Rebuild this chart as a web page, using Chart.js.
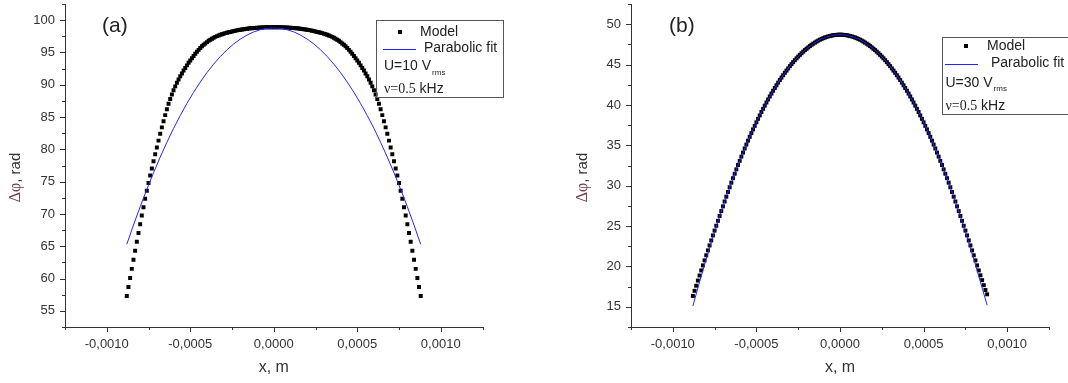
<!DOCTYPE html>
<html>
<head>
<meta charset="utf-8">
<script src="https://cdn.jsdelivr.net/npm/chart.js@4.4.0/dist/chart.umd.min.js"></script>
<style>
  html, body { margin: 0; padding: 0; background: #fff; }
  .panel { position: absolute; top: 0; width: 534px; height: 383px; }
  #panelA { left: 0; }
  #panelB { left: 534px; }
</style>
</head>
<body>
<div class="panel" id="panelA"><canvas id="chartA"></canvas></div>
<div class="panel" id="panelB"><canvas id="chartB"></canvas></div>
<script>
// x positions in micrometres (converted to metres when plotted)
const xModel = [
  -880,-870,-860,-850,-840,-830,-820,-810,-800,-790,-780,-770,-760,-750,-740,-730,-720,-710,-700,-690,
  -680,-670,-660,-650,-640,-630,-620,-610,-600,-590,-580,-570,-560,-550,-540,-530,-520,-510,-500,-490,
  -480,-470,-460,-450,-440,-430,-420,-410,-400,-390,-380,-370,-360,-350,-340,-330,-320,-310,-300,-290,
  -280,-270,-260,-250,-240,-230,-220,-210,-200,-190,-180,-170,-160,-150,-140,-130,-120,-110,-100,-90,
  -80,-70,-60,-50,-40,-30,-20,-10,0,10,20,30,40,50,60,70,80,
  90,100,110,120,130,140,150,160,170,180,190,200,210,220,230,240,250,260,270,280,
  290,300,310,320,330,340,350,360,370,380,390,400,410,420,430,440,450,460,470,480,
  490,500,510,520,530,540,550,560,570,580,590,600,610,620,630,640,650,660,670,680,
  690,700,710,720,730,740,750,760,770,780,790,800,810,820,830,840,850,860,870,880
];
const xFit = [
  -880,-840,-800,-760,-720,-680,-640,-600,-560,-520,-480,-440,-400,-360,-320,-280,-240,-200,-160,-120,-80,-40,
  0,40,80,120,160,200,240,280,320,360,400,440,480,520,560,600,640,680,720,760,800,840,880
];

// panel (a): U = 10 Vrms
const modelA = [
  57.3, 58.7, 60.1, 61.5, 62.9, 64.3, 65.7, 67.05, 68.4, 69.75,
  71.05, 72.35, 73.6, 74.8, 75.95, 77.05, 78.15, 79.25, 80.3, 81.35,
  82.4, 83.4, 84.35, 85.3, 86.2, 87.05, 87.8, 88.5, 89.15, 89.75,
  90.3, 90.8, 91.3, 91.75, 92.2, 92.6, 93.0, 93.4, 93.75, 94.1,
  94.45, 94.8, 95.1, 95.4, 95.7, 95.95, 96.2, 96.4, 96.6, 96.8,
  96.97, 97.13, 97.28, 97.41, 97.53, 97.64, 97.74, 97.83, 97.91, 97.99,
  98.06, 98.12, 98.18, 98.24, 98.3, 98.36, 98.42, 98.47, 98.52, 98.56,
  98.6, 98.64, 98.67, 98.7, 98.73, 98.76, 98.78, 98.8, 98.82, 98.84,
  98.85, 98.87, 98.88, 98.89, 98.9, 98.9, 98.91, 98.91, 98.91,
  98.91, 98.91, 98.9, 98.9, 98.89, 98.88, 98.87, 98.85,
  98.84, 98.82, 98.8, 98.78, 98.76, 98.73, 98.7, 98.67, 98.64, 98.6,
  98.56, 98.52, 98.47, 98.42, 98.36, 98.3, 98.24, 98.18, 98.12, 98.06,
  97.99, 97.91, 97.83, 97.74, 97.64, 97.53, 97.41, 97.28, 97.13, 96.97,
  96.8, 96.6, 96.4, 96.2, 95.95, 95.7, 95.4, 95.1, 94.8, 94.45,
  94.1, 93.75, 93.4, 93.0, 92.6, 92.2, 91.75, 91.3, 90.8, 90.3,
  89.75, 89.15, 88.5, 87.8, 87.05, 86.2, 85.3, 84.35, 83.4, 82.4,
  81.35, 80.3, 79.25, 78.15, 77.05, 75.95, 74.8, 73.6, 72.35, 71.05,
  69.75, 68.4, 67.05, 65.7, 64.3, 62.9, 61.5, 60.1, 58.7, 57.3
];
const fitA = [
  65.3, 68.28, 71.11, 73.81, 76.37, 78.8, 81.08, 83.23, 85.23, 87.1, 88.83, 90.42,
  91.88, 93.19, 94.37, 95.41, 96.31, 97.07, 97.69, 98.18, 98.52, 98.73, 98.8,
  98.73, 98.52, 98.18, 97.69, 97.07, 96.31, 95.41, 94.37, 93.19, 91.88, 90.42,
  88.83, 87.1, 85.23, 83.23, 81.08, 78.8, 76.37, 73.81, 71.11, 68.28, 65.3
];

// panel (b): U = 30 Vrms
const modelB = [
  16.35, 16.98, 17.61, 18.25, 18.88, 19.51, 20.13, 20.75, 21.38, 21.99,
  22.6, 23.22, 23.84, 24.44, 25.04, 25.65, 26.26, 26.85, 27.44, 28.04,
  28.64, 29.22, 29.8, 30.37, 30.93, 31.48, 32.02, 32.56, 33.08, 33.6,
  34.1, 34.6, 35.09, 35.57, 36.05, 36.51, 36.97, 37.41, 37.85, 38.28,
  38.7, 39.12, 39.52, 39.91, 40.3, 40.68, 41.05, 41.41, 41.76, 42.1,
  42.43, 42.76, 43.08, 43.39, 43.68, 43.98, 44.26, 44.53, 44.8, 45.05,
  45.3, 45.54, 45.77, 45.99, 46.2, 46.4, 46.6, 46.79, 46.96, 47.13,
  47.29, 47.45, 47.59, 47.72, 47.85, 47.97, 48.08, 48.18, 48.27, 48.35,
  48.42, 48.49, 48.54, 48.59, 48.63, 48.66, 48.68, 48.7, 48.7,
  48.7, 48.68, 48.66, 48.63, 48.59, 48.54, 48.49, 48.42,
  48.35, 48.27, 48.18, 48.08, 47.97, 47.85, 47.72, 47.59, 47.45, 47.29,
  47.13, 46.96, 46.79, 46.6, 46.4, 46.2, 45.99, 45.77, 45.54, 45.3,
  45.05, 44.8, 44.53, 44.26, 43.98, 43.68, 43.39, 43.08, 42.76, 42.43,
  42.1, 41.76, 41.41, 41.05, 40.68, 40.3, 39.91, 39.52, 39.12, 38.7,
  38.28, 37.85, 37.41, 36.97, 36.51, 36.05, 35.57, 35.09, 34.6, 34.1,
  33.6, 33.08, 32.56, 32.02, 31.48, 30.93, 30.37, 29.8, 29.22, 28.64,
  28.04, 27.44, 26.85, 26.26, 25.65, 25.04, 24.44, 23.84, 23.22, 22.6,
  21.99, 21.38, 20.75, 20.13, 19.51, 18.9, 18.3, 17.68, 17.08, 16.55
];
const fitB = [
  15.1, 18.08, 20.93, 23.64, 26.21, 28.64, 30.93, 33.08, 35.09, 36.97, 38.7, 40.3,
  41.76, 43.08, 44.26, 45.3, 46.2, 46.96, 47.59, 48.08, 48.42, 48.63, 48.7,
  48.63, 48.42, 48.08, 47.59, 46.96, 46.2, 45.3, 44.26, 43.08, 41.76, 40.3,
  38.7, 36.97, 35.09, 33.08, 30.93, 28.64, 26.21, 23.64, 20.93, 18.08, 15.2
];

const seriesNames = ['Model', 'Parabolic fit'];
const voltages = ['10', '30'];
const freqText = '0.5';

const SANS = '"Liberation Sans", Arial, sans-serif';
const SERIF = '"Liberation Serif", "Times New Roman", serif';

function pts(xs, ys) {
  return xs.map((x, i) => ({ x: x / 1e6, y: ys[i] }));
}

function onStep(v, step) {
  const r = v / step;
  return Math.abs(r - Math.round(r)) < 1e-6;
}

function fmtX(v) {
  if (Math.abs(v) < 1e-12) v = 0;
  return v.toFixed(4).replace('.', ',');
}

// tick marks, y title, panel letter and the boxed legend
const decor = {
  id: 'decor',
  afterDraw(chart, args, o) {
    const ctx = chart.ctx;
    const area = chart.chartArea;
    const sx = chart.scales.x, sy = chart.scales.y;
    ctx.save();

    ctx.strokeStyle = '#333';
    ctx.lineWidth = 1;
    ctx.beginPath();
    sx.ticks.forEach(t => {
      const px = Math.round(sx.getPixelForValue(t.value)) + 0.5;
      const len = onStep(t.value, 0.0005) ? 5 : 3;
      ctx.moveTo(px, area.bottom);
      ctx.lineTo(px, area.bottom + len);
    });
    sy.ticks.forEach(t => {
      const py = Math.round(sy.getPixelForValue(t.value)) + 0.5;
      const len = onStep(t.value, 5) ? 5 : 3;
      ctx.moveTo(area.left - len, py);
      ctx.lineTo(area.left, py);
    });
    ctx.stroke();

    // panel letter
    ctx.fillStyle = '#222';
    ctx.textBaseline = 'middle';
    ctx.textAlign = 'left';
    ctx.font = '21px ' + SANS;
    ctx.fillText(o.letter, o.letterX, o.letterY);

    // y axis title: "Δφ" in serif, ", rad" in sans
    ctx.save();
    ctx.translate(o.yTitleX, o.yTitleY);
    ctx.rotate(-Math.PI / 2);
    ctx.font = '16px ' + SERIF;
    const w1 = ctx.measureText('Δφ').width;
    ctx.font = '15px ' + SANS;
    const w2 = ctx.measureText(', rad').width;
    let tx = -(w1 + w2) / 2;
    ctx.font = '16px ' + SERIF;
    ctx.fillStyle = '#6e4040';
    ctx.fillText('Δφ', tx, 0);
    ctx.font = '15px ' + SANS;
    ctx.fillStyle = '#333';
    ctx.fillText(', rad', tx + w1, 0);
    ctx.restore();

    // legend box
    const lg = o.legend;
    ctx.strokeStyle = '#555';
    ctx.lineWidth = 1;
    ctx.strokeRect(lg.x + 0.5, lg.y + 0.5, lg.w, lg.h);
    ctx.fillStyle = '#000';
    ctx.fillRect(lg.markX - 2, lg.row1 - 2, 4, 4);
    ctx.fillStyle = '#222';
    ctx.font = '14px ' + SANS;
    ctx.fillText(seriesNames[0], lg.modelX, lg.row1);
    ctx.strokeStyle = '#2424ff';
    ctx.beginPath();
    ctx.moveTo(lg.line0, Math.round(lg.row2) + 0.5);
    ctx.lineTo(lg.line1, Math.round(lg.row2) + 0.5);
    ctx.stroke();
    ctx.fillText(seriesNames[1], lg.fitX, lg.row2);
    const uText = 'U=' + o.volt + ' V';
    ctx.fillText(uText, lg.textX, lg.row3);
    const uw = ctx.measureText(uText).width;
    ctx.font = '8px ' + SANS;
    ctx.fillText('rms', lg.textX + uw + 1, lg.row3 + 6);
    ctx.font = '14px ' + SERIF;
    const nuText = 'ν=' + freqText;
    ctx.fillText(nuText, lg.textX, lg.row4);
    const nw = ctx.measureText(nuText).width;
    ctx.font = '14px ' + SANS;
    ctx.fillText(' kHz', lg.textX + nw, lg.row4);

    ctx.restore();
  }
};

function makeChart(canvasId, model, fit, yMin, yMax, yWidth, padRight, deco) {
  return new Chart(document.getElementById(canvasId), {
    type: 'scatter',
    data: {
      datasets: [
        {
          label: seriesNames[1],
          data: pts(xFit, fit),
          showLine: true,
          borderColor: '#2424ff',
          borderWidth: 1,
          pointRadius: 0,
          tension: 0
        },
        {
          label: seriesNames[0],
          data: pts(xModel, model),
          showLine: false,
          pointStyle: 'rect',
          pointRadius: 2.8,
          pointBorderWidth: 0,
          pointBackgroundColor: '#000',
          pointBorderColor: '#000'
        }
      ]
    },
    options: {
      responsive: true,
      maintainAspectRatio: false,
      animation: false,
      devicePixelRatio: 1,
      events: [],
      layout: { padding: { top: 4, right: padRight, bottom: 0, left: 0 } },
      plugins: {
        legend: { display: false },
        tooltip: { enabled: false },
        decor: deco
      },
      scales: {
        x: {
          type: 'linear',
          min: -0.00125,
          max: 0.00125,
          afterFit: s => {
            s.height = 56;
            s.paddingLeft = 0;
            s.paddingRight = 0;
          },
          grid: { display: true, drawOnChartArea: false, drawTicks: false },
          border: { display: true, color: '#333', width: 1 },
          ticks: {
            stepSize: 0.00025,
            autoSkip: false,
            maxRotation: 0,
            padding: 9.5,
            color: '#333',
            font: { family: SANS, size: 13 },
            callback: v => onStep(v, 0.0005) ? fmtX(v) : ''
          },
          title: {
            display: true,
            text: 'x, m',
            color: '#333',
            font: { family: SANS, size: 16 },
            padding: { top: 0, bottom: 6 }
          }
        },
        y: {
          type: 'linear',
          min: yMin,
          max: yMax,
          afterFit: s => {
            s.width = yWidth;
            s.paddingTop = 0;
            s.paddingBottom = 0;
          },
          grid: { display: true, drawOnChartArea: false, drawTicks: false },
          border: { display: true, color: '#333', width: 1 },
          ticks: {
            stepSize: 2.5,
            autoSkip: false,
            padding: 10,
            color: '#333',
            font: { family: SANS, size: 13 },
            callback: v => onStep(v, 5) ? String(Math.round(v)) : ''
          }
        }
      }
    },
    plugins: [decor]
  });
}

makeChart('chartA', modelA, fitA, 52.5, 102.5, 65, 51.5, {
  letter: '(a)', letterX: 102, letterY: 26.5,
  yTitleX: 15.5, yTitleY: 177.5,
  volt: voltages[0],
  legend: {
    x: 376, y: 20, w: 127, h: 77,
    markX: 400, modelX: 420, line0: 383, line1: 416, fitX: 424, textX: 384,
    row1: 32, row2: 48.5, row3: 66.5, row4: 89
  }
});

makeChart('chartB', modelB, fitB, 12.5, 52.5, 97, 19, {
  letter: '(b)', letterX: 135, letterY: 26,
  yTitleX: 48.5, yTitleY: 177.5,
  volt: voltages[1],
  legend: {
    x: 408, y: 37, w: 200, h: 77,
    markX: 432, modelX: 453, line0: 411, line1: 444, fitX: 457, textX: 411.5,
    row1: 46, row2: 63.5, row3: 83, row4: 106.3
  }
});
</script>
</body>
</html>
